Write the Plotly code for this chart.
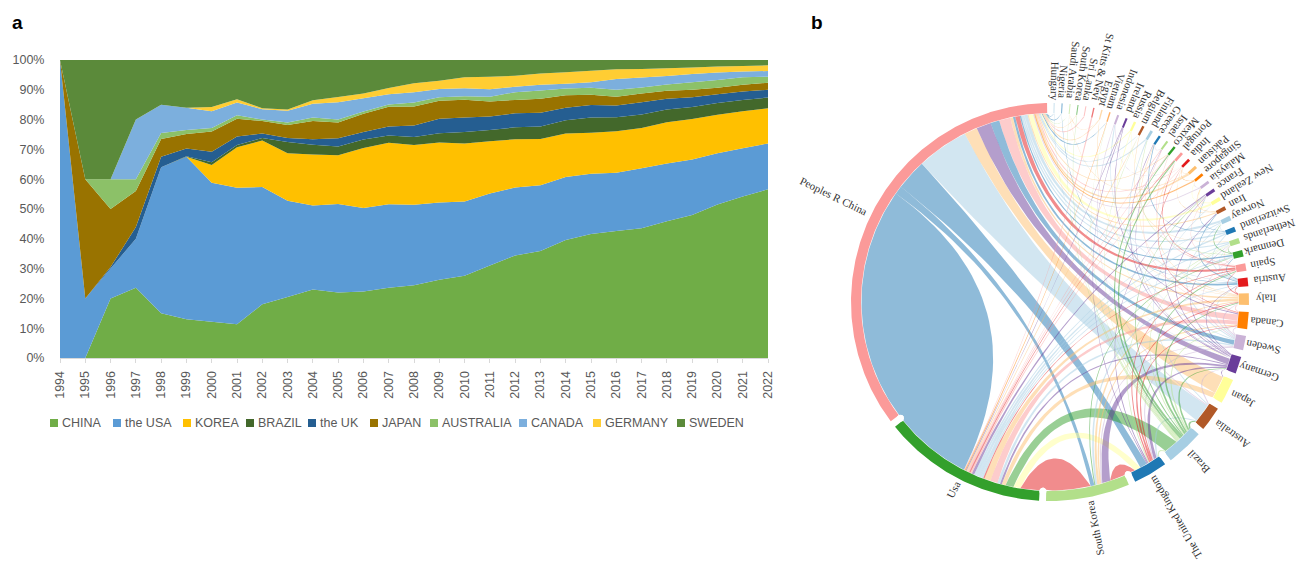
import numpy as np
import plotly.graph_objects as go

# ---------- panel a data (percent share per year) ----------
YEARS = [str(y) for y in range(1994, 2023)]
CHINA = [0,0,20,23.6,15,13,12.2,11.3,18,20.5,23,22,22.3,23.6,24.4,26.3,27.6,31,34.4,35.9,39.6,41.6,42.6,43.5,45.9,48,51.5,54.2,56.6]
USA = [100,20,10,16.4,49,54.5,46.6,45.8,39.4,32.3,28.2,29.7,28,28,27,25.9,24.9,24.2,22.8,22.1,21.1,20.2,19.6,20.2,19.4,18.6,17.2,16.2,15.4]
KOREA = [0,0,0,0,0,0,6,13.6,15.6,15.9,17.1,16.3,20.2,20.6,20.1,20.1,19.5,17.5,16.2,15.5,14.6,13.8,13.9,13.5,13.8,13.6,12.9,12.4,11.8]
BRAZIL = [0,0,0,0,0,.2,.9,.8,.8,3.8,3.3,3,2.8,2.5,2.7,3.1,3.8,3.8,4,4.2,4.5,5.1,4.7,4.5,4.3,4,4,3.8,3.6]
UK = [0,0,.5,4,3.5,2.6,3.5,2.8,1.5,1.3,1.8,2.7,2.5,3,3.8,4.9,4.9,4.5,4.7,4.6,4.2,4.2,3.9,4.1,3.6,3.3,2.9,2.8,2.6]
JAPAN = [0,40,19.5,12,6,4.9,6.8,6,4.2,4.4,6.1,5.3,6.2,6.6,6.4,6,6,5.1,4.5,4.7,4.2,3.4,3,3,2.7,2.5,2.2,2.3,2.4]
AUSTRALIA = [0,0,10,4,2,1.3,1.2,1.2,.5,.8,1.2,1,.7,.8,1.3,1.2,1.1,1.6,2.6,2.8,2.2,2.4,2.3,2,2.1,2.5,2.6,2.5,2]
CANADA = [0,0,0,20,9.5,7.5,5.6,4.2,3.5,4,4.6,5.8,4.5,3.4,3.5,2.8,2.7,2.5,1.8,1.9,1.6,1.8,3.6,3.3,2.8,2.8,2.5,1.9,1.9]
GERMANY = [0,0,0,0,0,0,1.4,1.1,.3,.4,1.2,1.8,1.6,2.1,3,2.7,3.7,4.2,3.7,3.8,3.9,3.9,3.3,2.9,2.6,2.2,2,1.9,1.9]
SWEDEN = [0,40,40,20,15,16,15.8,13.2,16.2,16.6,13.5,12.4,11.2,9.4,7.8,7,5.8,5.6,5.3,4.5,4.1,3.6,3.1,3,2.8,2.5,2.2,2,1.8]

SERIES = [("CHINA", CHINA, "#70AD47"), ("the USA", USA, "#5B9BD5"), ("KOREA", KOREA, "#FFC000"),
          ("BRAZIL", BRAZIL, "#43682B"), ("the UK", UK, "#255E91"), ("JAPAN", JAPAN, "#997300"),
          ("AUSTRALIA", AUSTRALIA, "#8CC168"), ("CANADA", CANADA, "#7CAFDD"),
          ("GERMANY", GERMANY, "#FFCD33"), ("SWEDEN", SWEDEN, "#5B8A3A")]
LEGEND_TEXT_X = [62, 125, 195, 258, 320, 382, 442, 531, 605, 689]

# ---------- panel b data ----------
NODE_KEYS = ["HU","NG","SA","ZA","LK","KN","EG","VN","ID","IE","RU","BE","FI","GR","IL","MX","PT","IN","PK","SG","MY","FR","NZ","IR","NO","CH","NL","DK","ES","AT","IT","CA","SE","DE","JP","AU","BR","GB","KR","US","CN"]
NODE_LABELS = ["Hungary","Nigeria","Saudi Arabia","South Korea","Sri Lanka","St Kitts & Nevi","Egypt","Vietnam","Indonesia","Ireland","Russia","Belgium","Finland","Greece","Israel","Mexico","Portugal","India","Pakistan","Singapore","Malaysia","France","New Zealand","Iran","Norway","Switzerland","Netherlands","Denmark","Spain","Austria","Italy","Canada","Sweden","Germany","Japan","Australia","Brazil","The United Kingdom","South Korea","Usa","Peoples R China"]
NODE_SIZES = [.3,.3,.3,.3,.3,.4,.4,.4,.6,.6,.7,.7,.8,.7,.6,.7,.8,.8,.9,.8,.8,.9,1.1,1.1,1.4,1.5,1.6,1.9,2.2,2.5,3.4,5,4.2,5,7.4,7.2,11,10,24.5,48,126]
NODE_COLORS = ["lb","b","lg","g","p","r","lo","o","lp","pu","y","br","lb","b","lg","g","p","r","lo","o","lp","pu","y","br","lb","b","lg","g","p","r","lo","o","lp","pu","y","br","lb","b","lg","g","p"]
PALETTE = {"lb":"166,206,227","b":"31,120,180","lg":"178,223,138","g":"51,160,44","p":"251,154,153","r":"227,26,28",
           "lo":"253,191,111","o":"255,127,0","lp":"202,178,214","pu":"106,61,154","y":"255,255,153","br":"177,89,40"}
LINKS = [
("CN","US",72,24.5,"b"),("CN","KR",2.5,1.2,"b"),("CN","GB",9.5,2.4,"b"),("CN","AU",16,5.6,"lb"),("CN","JP",4,4,"lo"),
("CN","DE",4.5,2.4,"pu"),("CN","AT",.7,.7,"b"),("CN","CA",3.5,2,"p"),("CN","SE",2.7,1.3,"b"),("CN","ES",1.4,.9,"r"),
("CN","NZ",1.4,.7,"y"),("CN","NO",1,.9,"lb"),("CN","IT",.8,.7,"lo"),("CN","NL",.5,.6,"lb"),("CN","PK",.4,.5,"lo"),
("CN","CH",.5,.7,"lb"),("CN","FI",.3,.4,"lb"),("CN","SG",.4,.5,"o"),("CN","MY",.3,.4,"lp"),("CN","IN",.3,.4,"p"),
("CN","DK",.4,.5,"b"),("CN","VN",.3,.3,"b"),("CN","NG",.3,.3,"b"),("CN","HU",.2,.2,"b"),("CN","SA",.2,.2,"lg"),
("CN","BE",.3,.3,"lb"),("CN","RU",.3,.3,"y"),("CN","MX",.3,.3,"lo"),("CN","IR",.3,.5,"lo"),
("US","BE",.4,.3,"lo"),("US","MX",.4,.3,"p"),("US","VN",.4,.3,"o"),("US","FR",.8,.5,"pu"),("US","PT",.4,.3,"r"),
("US","CA",2.3,1.3,"p"),("US","DE",.6,.4,"pu"),("US","IT",2,1,"lo"),("US","ES",.4,.4,"r"),("US","NL",.7,.5,"lb"),
("US","JP",1.2,1.2,"lo"),("US","CH",1,.6,"lb"),("US","BR",2.5,4,"g"),("US","GB",2.2,2,"y"),("US","SE",.8,.4,"lb"),
("US","IN",.5,.3,"p"),("US","DK",.6,.4,"lb"),("US","NO",.7,.3,"lb"),("US","IL",.2,.3,"p"),("US","KR",6,13.7,"r"),
("KR","DE",2.5,.7,"pu"),("KR","IT",.7,.3,"lo"),("KR","AT",.6,.3,"lb"),("KR","SE",.4,.2,"lp"),("KR","DK",.3,.2,"g"),
("KR","CA",.5,.3,"lo"),("KR","GB",4.8,1.5,"r"),
("GB","DE",1,.5,"pu"),("GB","IT",.6,.3,"r"),("GB","AU",.5,.3,"lb"),("GB","BR",.5,.4,"lg"),("GB","SE",.4,.3,"lp"),
("GB","FR",.3,.2,"pu"),("GB","NL",.3,.2,"lg"),("GB","CA",.4,.2,"r"),("GB","ES",.4,.3,"r"),
("BR","AU",.7,.4,"g"),("BR","PT",.6,.5,"g"),("BR","ES",.6,.4,"g"),("BR","IT",.5,.3,"g"),("BR","DE",.5,.3,"g"),
("BR","CA",.4,.2,"lg"),("BR","MX",.5,.5,"g"),("BR","ZA",.4,.3,"lg"),("BR","VN",.3,.2,"lg"),("BR","SA",.3,.3,"lg"),
("BR","BE",.3,.2,"lg"),("BR","FR",.3,.2,"g"),("BR","NL",.3,.2,"lg"),
("AU","NZ",.3,.2,"lb"),("AU","DE",.4,.2,"lp"),("JP","DE",.3,.2,"pu"),
("DE","AT",.3,.2,"pu"),("DE","NL",.3,.2,"pu"),("DE","FR",.3,.3,"pu"),
("SE","IT",.4,.3,"lp"),("SE","CA",.3,.3,"lp"),("SE","DK",.3,.2,"lp"),("SE","NO",.3,.3,"lb"),("SE","AT",.3,.2,"lb"),("SE","FI",.2,.3,"lb"),
("CA","IT",.3,.3,"p"),("CA","IN",.2,.3,"r"),("CA","IL",.2,.2,"p"),
("IT","ES",.4,.3,"r"),("IT","AT",.3,.3,"r"),("IT","PT",.2,.2,"lo"),("IT","GR",.2,.2,"lo"),("IT","EG",.15,.2,"lo"),
("AT","CH",.4,.3,"lb"),("AT","NL",.3,.2,"lb"),("AT","DK",.3,.2,"b"),("AT","IR",.3,.3,"b"),("AT","ID",.2,.2,"lb"),("AT","NG",.2,.2,"b"),
("ES","PT",.3,.3,"r"),("ES","MX",.3,.2,"p"),("ES","FR",.3,.2,"p"),("ES","NL",.2,.2,"p"),
("DK","NO",.3,.3,"g"),("DK","NL",.3,.2,"g"),("DK","FI",.2,.2,"lg"),
("CH","FR",.2,.2,"b"),("CH","GR",.2,.3,"b"),("CH","NO",.2,.2,"lb"),
("IR","MY",.3,.3,"lo"),("IR","DE",.3,.3,"pu"),("IR","IN",.2,.2,"lo"),
("NZ","SG",.2,.2,"y"),("NZ","MY",.2,.2,"y"),("MY","SG",.2,.2,"lp"),("SG","IN",.2,.2,"o"),
("PK","IN",.2,.2,"lo"),("PK","SA",.2,.2,"lo"),("IL","GR",.2,.2,"lp"),("IL","DE",.2,.2,"pu"),("GR","DE",.2,.3,"pu"),
("BE","NL",.2,.2,"lo"),("RU","DE",.2,.2,"y"),("RU","IN",.1,.2,"y"),
("IE","CA",.2,.3,"pu"),("IE","GB",.2,.3,"pu"),("IE","US",.2,.2,"pu"),
("ID","AU",.2,.3,"lp"),("ID","IN",.1,.2,"lp"),("EG","SA",.1,.2,"lo"),("EG","CN",.2,.3,"lo"),
("KN","US",.7,.2,"p"),("LK","CN",.6,.2,"p"),("ZA","CN",.3,.2,"lo"),("HU","DE",.2,.1,"lb"),
]

# ---------- chord geometry constants ----------
CX, CY = 1050.0, 302.0
R_OUT, R_IN = 199.0, 188.5
GAP = 2.0
START = 1.05

def pt(theta, r):
    t = np.radians(theta)
    return CX + r * np.sin(t), CY - r * np.cos(t)

fig = go.Figure()

# panel a: stacked area
for name, vals, col in SERIES:
    fig.add_trace(go.Scatter(x=YEARS, y=vals, name=name, stackgroup="one", mode="none",
                             fillcolor=col, line=dict(width=0), showlegend=False,
                             xaxis="x", yaxis="y"))

# node arcs
spans = {}
a = START
for k, s in zip(NODE_KEYS, NODE_SIZES):
    spans[k] = (a, a + s)
    a += s + GAP
centers = {k: (v[0] + v[1]) / 2 for k, v in spans.items()}

# order link ends on every node by where the partner sits, then walk clockwise
ends = {k: [] for k in NODE_KEYS}
for i, (s, t, ws, wt, c) in enumerate(LINKS):
    ends[s].append(((centers[t] - centers[s]) % 360, i, 0, ws))
    ends[t].append(((centers[s] - centers[t]) % 360, i, 1, wt))
slots = {}
for k, lst in ends.items():
    lst.sort(key=lambda e: -e[0])
    total = sum(e[3] for e in lst)
    f = (spans[k][1] - spans[k][0]) / total if total else 1
    pos = spans[k][0]
    for _, i, side, w in lst:
        slots[(i, side)] = (pos, pos + w * f)
        pos += w * f

def curve(t0, t1):
    """edge between two rim angles, pulled towards the centre"""
    d = abs((t1 - t0 + 180) % 360 - 180)
    mid = t0 + ((t1 - t0 + 180) % 360 - 180) / 2
    rc = R_IN * np.interp(d, [0, 22, 52, 98, 180], [1.0, .67, .33, .02, 0.0])
    p0, p1, c = np.array(pt(t0, R_IN)), np.array(pt(t1, R_IN)), np.array(pt(mid, rc))
    u = np.linspace(0, 1, 36)[:, None]
    return (1 - u) ** 2 * p0 + 2 * u * (1 - u) * c + u ** 2 * p1

def rim(t0, t1):
    th = np.linspace(t0, t1, max(2, int(abs(t1 - t0)) + 2))
    return np.column_stack(pt(th, R_IN))

for i, (s, t, ws, wt, c) in enumerate(LINKS):
    a0, a1 = slots[(i, 0)]
    b0, b1 = slots[(i, 1)]
    poly = np.vstack([rim(a0, a1), curve(a1, b0), rim(b0, b1), curve(b1, a0)])
    fig.add_trace(go.Scatter(x=poly[:, 0], y=poly[:, 1], mode="lines", line=dict(width=0),
                             fill="toself", fillcolor=f"rgba({PALETTE[c]},0.5)",
                             hoverinfo="skip", showlegend=False, xaxis="x2", yaxis="y2"))

for k, col, size in zip(NODE_KEYS, NODE_COLORS, NODE_SIZES):
    t0, t1 = spans[k]
    th = np.linspace(t0, t1, max(2, int(t1 - t0) * 2 + 2))
    xo, yo = pt(th, R_OUT)
    xi, yi = pt(th[::-1], R_IN + 0.5)
    alpha = 0.6 if size <= 0.4 else 1
    fig.add_trace(go.Scatter(x=np.r_[xo, xi], y=np.r_[yo, yi], mode="lines", line=dict(width=0),
                             fill="toself", fillcolor=f"rgba({PALETTE[col]},{alpha})",
                             hoverinfo="skip", showlegend=False, xaxis="x2", yaxis="y2"))

# rounded white notches between the large arcs
notch = [(spans[NODE_KEYS[i]][1] + spans[NODE_KEYS[i + 1]][0]) / 2 for i in range(33, 40)]
nx, ny = pt(np.array(notch), R_IN + 1)
fig.add_trace(go.Scatter(x=nx, y=ny, mode="markers", marker=dict(color="white", size=7),
                         hoverinfo="skip", showlegend=False, xaxis="x2", yaxis="y2"))

anns = []
FS = 11
for k, lab in zip(NODE_KEYS, NODE_LABELS):
    th = centers[k]
    w = len(lab) * 0.46 * FS
    lx, ly = pt(th, 203 + w / 2)
    ang = (th + 90 + 180) % 360 - 180
    anns.append(dict(x=lx, y=ly, xref="x2", yref="y2", text=lab, showarrow=False, textangle=ang,
                     xanchor="center", yanchor="middle",
                     font=dict(family="Liberation Serif", size=FS, color="#333333")))

# legend row for panel a
shapes = []
for (name, _, col), tx in zip(SERIES, LEGEND_TEXT_X):
    anns.append(dict(x=tx - 2, y=423, xref="x2", yref="y2", text=name, showarrow=False, xanchor="left",
                     yanchor="middle", font=dict(family="Liberation Sans", size=12.5, color="#595959")))
    shapes.append(dict(type="rect", xref="x2", yref="y2", x0=tx - 12, x1=tx - 4, y0=419, y1=427,
                       fillcolor=col, line=dict(width=0)))

for txt, x in (("a", 10), ("b", 809)):
    anns.append(dict(x=x, y=22, xref="x2", yref="y2", text=f"<b>{txt}</b>", showarrow=False, xanchor="left",
                     yanchor="middle", font=dict(family="Liberation Sans", size=19, color="black")))

W, H = 1300, 561
fig.update_layout(
    template=None,
    width=W, height=H, margin=dict(l=0, r=0, t=0, b=0), paper_bgcolor="white", plot_bgcolor="rgba(0,0,0,0)",
    showlegend=False, annotations=anns, shapes=shapes,
    xaxis=dict(domain=[60 / W, 768 / W], anchor="y", type="category", range=[0, 28], tickangle=-90, automargin=False,
               ticks="outside", ticklen=4, tickcolor="#d9d9d9", linecolor="#d9d9d9", showline=True, ticklabelstandoff=3,
               showgrid=False, zeroline=False, tickfont=dict(family="Liberation Sans", size=12.5, color="#595959")),
    yaxis=dict(domain=[1 - 358 / H, 1 - 60 / H], anchor="x", range=[0, 100], dtick=10, ticksuffix="%", automargin=False,
               ticks="outside", ticklen=12, tickcolor="rgba(0,0,0,0)", showline=False, showgrid=False,
               zeroline=False, tickfont=dict(family="Liberation Sans", size=12.5, color="#595959")),
    xaxis2=dict(domain=[0, 1], anchor="y2", range=[0, W], visible=False, automargin=False),
    yaxis2=dict(domain=[0, 1], anchor="x2", range=[H, 0], visible=False, automargin=False),
)
fig.write_html("out.html", config={"displayModeBar": False}, post_script="document.body.style.margin='0';")
